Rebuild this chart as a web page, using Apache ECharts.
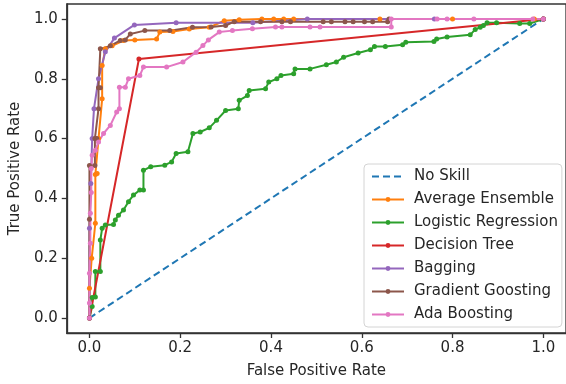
<!DOCTYPE html>
<html>
<head>
<meta charset="utf-8">
<script src="https://cdn.jsdelivr.net/npm/echarts@6/dist/echarts.min.js"></script>
<style>
  html, body { margin: 0; padding: 0; background: #ffffff; }
  #chart { width: 566px; height: 384px; }
</style>
</head>
<body>
<div id="chart"></div>
<script>
// ROC curves of the compared classifiers (false positive rate vs. true positive rate)
const tickValues = [0, 0.2, 0.4, 0.6, 0.8, 1.0];

const noSkillFpr = [0, 1];
const noSkillTpr = [0, 1];

const avgEnsembleFpr = [0, 0, 0.005, 0.013, 0.013, 0.017, 0.02, 0.028, 0.028, 0.035, 0.05, 0.075, 0.1, 0.148, 0.155, 0.184, 0.22, 0.264, 0.297, 0.33, 0.38, 0.406, 0.428, 0.45, 0.64, 0.8, 0.98, 1];
const avgEnsembleTpr = [0, 0.1, 0.2, 0.317, 0.48, 0.483, 0.6, 0.733, 0.844, 0.9, 0.91, 0.928, 0.93, 0.933, 0.956, 0.958, 0.966, 0.972, 0.994, 0.997, 1, 1, 1, 1, 1, 1, 1, 1];

const logRegFpr = [0, 0.006, 0.006, 0.013, 0.013, 0.024, 0.024, 0.028, 0.035, 0.053, 0.057, 0.064, 0.075, 0.086, 0.097, 0.111, 0.119, 0.119, 0.135, 0.166, 0.181, 0.191, 0.217, 0.228, 0.244, 0.264, 0.28, 0.3, 0.328, 0.33, 0.348, 0.352, 0.388, 0.395, 0.413, 0.422, 0.45, 0.453, 0.486, 0.522, 0.544, 0.56, 0.592, 0.619, 0.628, 0.652, 0.69, 0.697, 0.759, 0.765, 0.788, 0.839, 0.85, 0.861, 0.868, 0.876, 0.897, 0.948, 0.97, 1];
const logRegTpr = [0, 0.039, 0.069, 0.07, 0.156, 0.156, 0.261, 0.3, 0.311, 0.313, 0.328, 0.344, 0.361, 0.389, 0.411, 0.428, 0.428, 0.494, 0.506, 0.511, 0.522, 0.55, 0.556, 0.617, 0.622, 0.636, 0.661, 0.694, 0.7, 0.728, 0.744, 0.761, 0.767, 0.789, 0.8, 0.811, 0.817, 0.833, 0.833, 0.847, 0.856, 0.872, 0.886, 0.897, 0.908, 0.908, 0.914, 0.922, 0.925, 0.933, 0.94, 0.947, 0.965, 0.972, 0.978, 0.987, 0.987, 0.985, 0.985, 1];

const treeFpr = [0, 0.109, 1];
const treeTpr = [0, 0.866, 1];

const baggingFpr = [0, 0, 0.003, 0.006, 0.01, 0.02, 0.035, 0.055, 0.099, 0.191, 0.36, 0.48, 0.76, 1];
const baggingTpr = [0, 0.3, 0.45, 0.6, 0.7, 0.8, 0.89, 0.936, 0.98, 0.987, 0.987, 1, 1, 1];

const gradBoostFpr = [0, 0, 0, 0.012, 0.012, 0.016, 0.02, 0.02, 0.024, 0.024, 0.046, 0.068, 0.079, 0.09, 0.122, 0.177, 0.227, 0.268, 0.3, 0.319, 0.377, 0.424, 0.443, 0.515, 0.533, 0.563, 0.581, 0.606, 0.624, 0.657, 0.66, 1];
const gradBoostTpr = [0, 0.33, 0.51, 0.51, 0.6, 0.6, 0.7, 0.77, 0.77, 0.9, 0.91, 0.928, 0.93, 0.95, 0.961, 0.961, 0.972, 0.973, 0.978, 0.991, 0.991, 0.991, 0.991, 0.991, 0.991, 0.991, 0.991, 0.991, 0.991, 0.991, 1, 1];

const adaBoostFpr = [0, 0, 0, 0.002, 0.002, 0.004, 0.004, 0.006, 0.013, 0.02, 0.031, 0.046, 0.06, 0.066, 0.066, 0.079, 0.086, 0.111, 0.119, 0.17, 0.206, 0.235, 0.25, 0.262, 0.286, 0.315, 0.359, 0.41, 0.424, 0.486, 0.508, 0.665, 0.665, 0.766, 0.788, 0.847, 0.977, 1];
const adaBoostTpr = [0, 0.05, 0.15, 0.25, 0.35, 0.42, 0.5, 0.544, 0.561, 0.589, 0.617, 0.644, 0.689, 0.7, 0.772, 0.772, 0.8, 0.811, 0.839, 0.839, 0.856, 0.889, 0.911, 0.93, 0.956, 0.961, 0.967, 0.973, 0.973, 0.973, 0.973, 0.973, 1, 1, 1, 1, 1, 1];

const FONT = 'DejaVu Sans';
const TEXT_COLOR = '#262626';
const AXIS_COLOR = '#333333';

function pairs(xs, ys) {
  return xs.map((x, i) => [x, ys[i]]);
}

function curve(name, color, xs, ys, dashed) {
  return {
    name: name,
    type: 'line',
    data: pairs(xs, ys),
    symbol: dashed ? 'none' : 'circle',
    symbolSize: 5,
    showSymbol: !dashed,
    color: color,
    lineStyle: { color: color, width: 2, type: dashed ? [7, 4] : 'solid' },
    itemStyle: { color: color },
    emphasis: { disabled: true },
    animation: false
  };
}

const chart = echarts.init(document.getElementById('chart'), null, { renderer: 'canvas' });

const axisCommon = {
  type: 'value',
  min: -0.05,
  max: 1.05,
  splitLine: { show: false },
  axisLine: { show: true, onZero: false, lineStyle: { color: AXIS_COLOR, width: 1.3 } },
  axisTick: { show: true, length: 5, customValues: tickValues, lineStyle: { color: AXIS_COLOR, width: 1.3 } },
  axisLabel: {
    customValues: tickValues,
    formatter: v => v.toFixed(1),
    fontFamily: FONT,
    fontSize: 15,
    color: TEXT_COLOR
  },
  nameLocation: 'middle',
  nameTextStyle: { fontFamily: FONT, fontSize: 15, color: TEXT_COLOR }
};

const legendNames = ['No Skill', 'Average Ensemble', 'Logistic Regression', 'Decision Tree', 'Bagging', 'Gradient Goosting', 'Ada Boosting'];

chart.setOption({
  backgroundColor: '#ffffff',
  animation: false,
  grid: {
    left: 66, top: 4, width: 504, height: 330,
    show: true, borderColor: AXIS_COLOR, borderWidth: 1.3, backgroundColor: 'transparent'
  },
  xAxis: Object.assign({}, axisCommon, {
    name: 'False Positive Rate',
    nameGap: 31,
    axisLabel: Object.assign({}, axisCommon.axisLabel, { margin: 8 })
  }),
  yAxis: Object.assign({}, axisCommon, {
    name: 'True Positive Rate',
    nameGap: 39,
    axisLabel: Object.assign({}, axisCommon.axisLabel, { margin: 9 })
  }),
  legend: {
    orient: 'vertical',
    left: 364,
    top: 164,
    padding: [5, 4, 5, 7],
    itemWidth: 32,
    itemHeight: 6,
    itemGap: 8,
    backgroundColor: 'rgba(255,255,255,0.85)',
    borderColor: '#d4d4d4',
    borderWidth: 1,
    borderRadius: 4,
    textStyle: { fontFamily: FONT, fontSize: 15, color: TEXT_COLOR, padding: [0, 0, 0, 5] },
    // the dashed baseline entry shows only its line, no marker
    data: legendNames.map((n, i) => i === 0 ? { name: n, itemStyle: { opacity: 0 } } : n)
  },
  series: [
    curve('No Skill', '#1f77b4', noSkillFpr, noSkillTpr, true),
    curve('Average Ensemble', '#ff7f0e', avgEnsembleFpr, avgEnsembleTpr),
    curve('Logistic Regression', '#2ca02c', logRegFpr, logRegTpr),
    curve('Decision Tree', '#d62728', treeFpr, treeTpr),
    curve('Bagging', '#9467bd', baggingFpr, baggingTpr),
    curve('Gradient Goosting', '#8c564b', gradBoostFpr, gradBoostTpr),
    curve('Ada Boosting', '#e377c2', adaBoostFpr, adaBoostTpr)
  ]
});
</script>
</body>
</html>
